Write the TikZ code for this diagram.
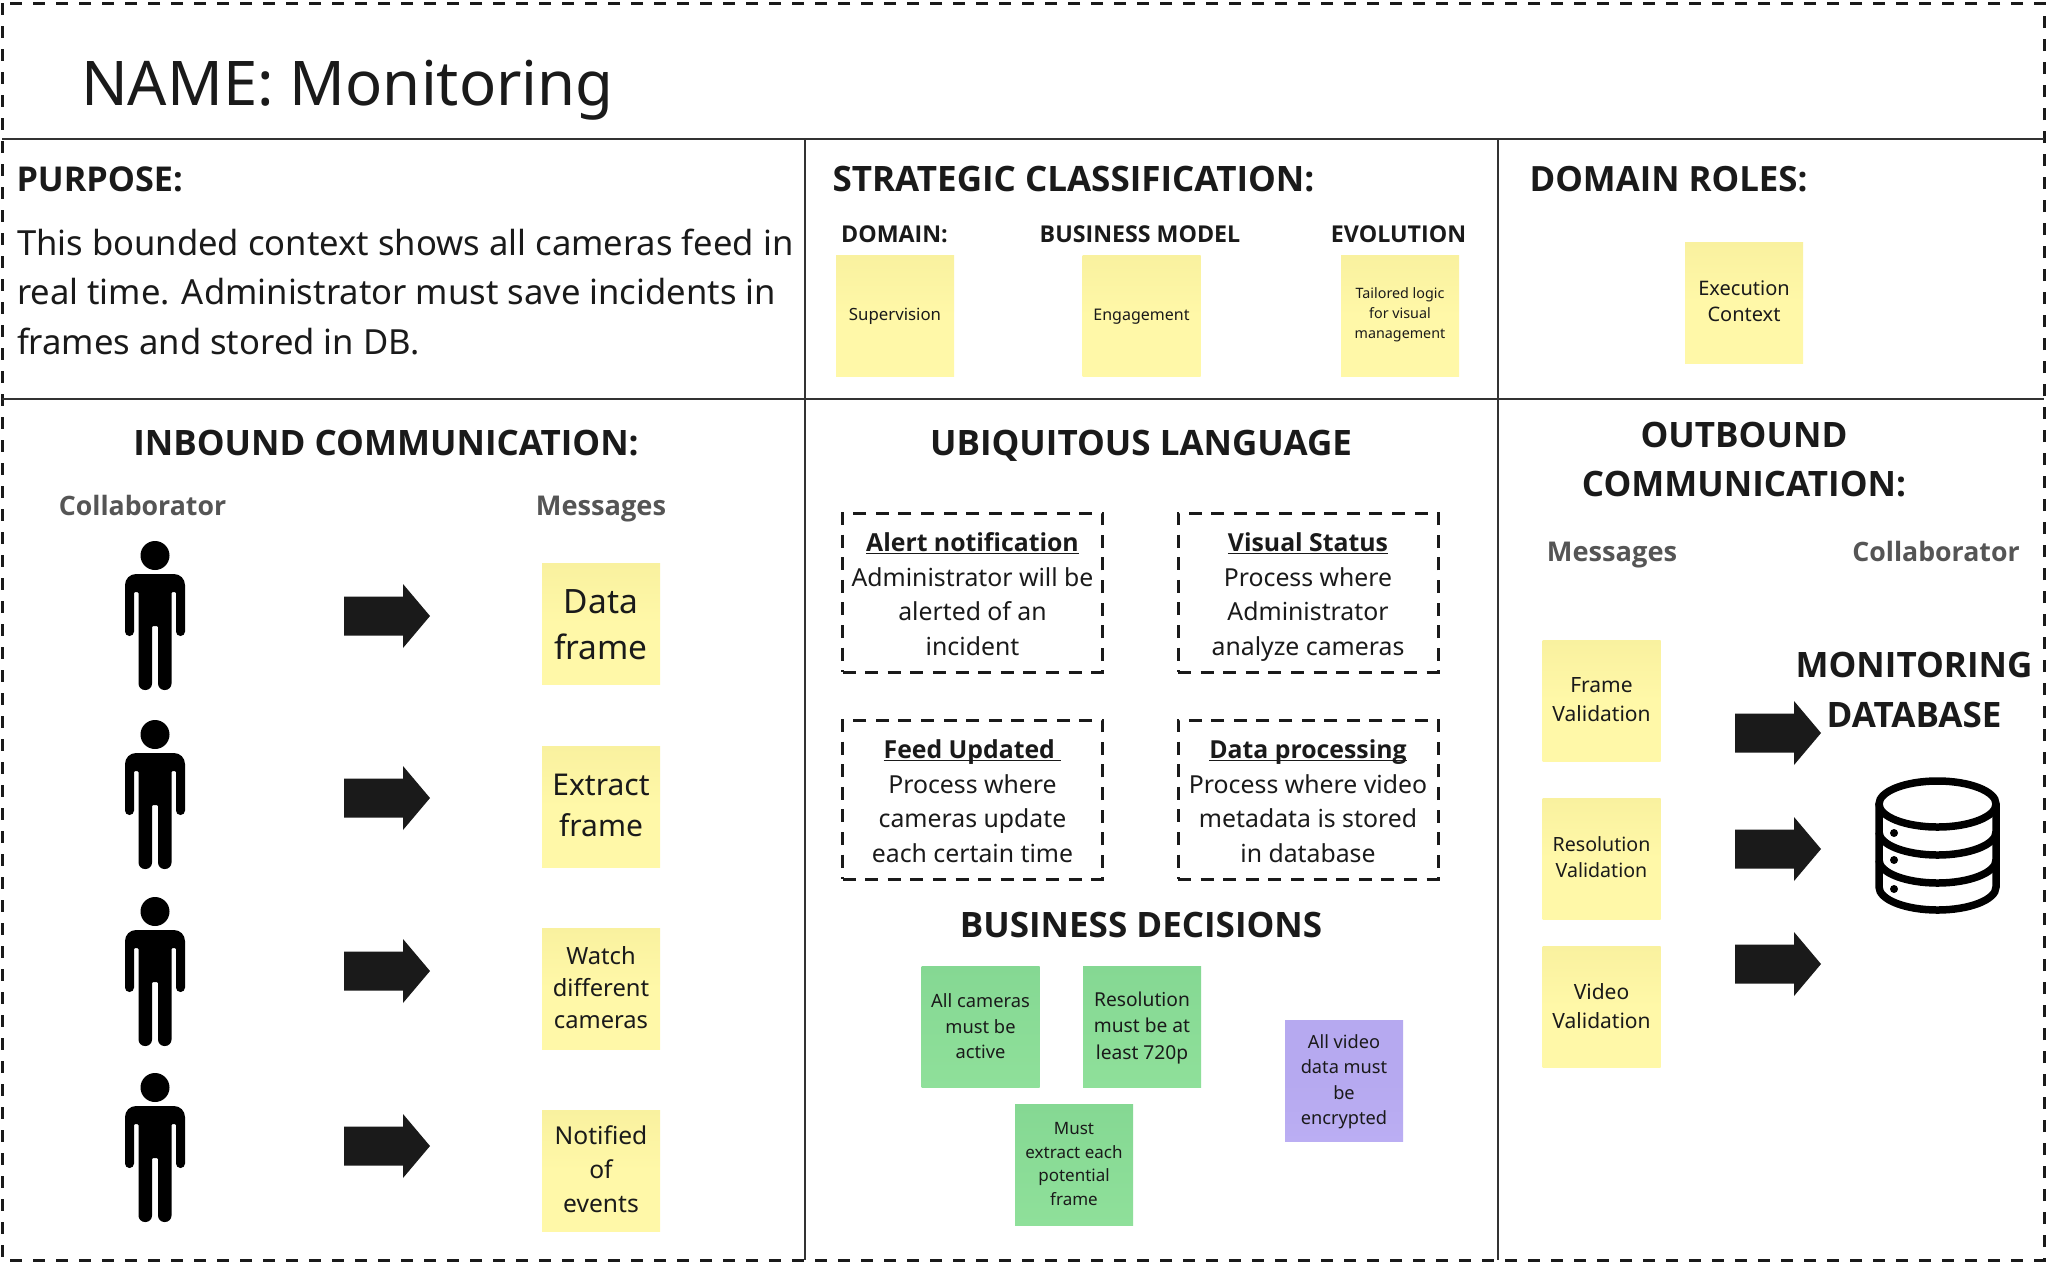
\documentclass[tikz,border=0pt]{standalone}
\usepackage{fontspec}
\setmainfont{Noto Sans}[BoldFont={Open Sans Bold}]
\usetikzlibrary{shadows}
\newcommand\fsz[2]{\fontsize{#1}{#2}\selectfont}
\newcommand\ulbox[1]{\underline{\smash{#1}}}
\definecolor{ink}{HTML}{1A1A1A}
\definecolor{greyhead}{HTML}{555555}
\definecolor{rulecol}{HTML}{333333}
\definecolor{yellowTop}{HTML}{F9F19F}
\definecolor{yellowBot}{HTML}{FFF8A8}
\definecolor{greenTop}{HTML}{85D893}
\definecolor{greenBot}{HTML}{8FE09A}
\definecolor{purpTop}{HTML}{B6A9F0}
\definecolor{purpBot}{HTML}{BBAEF3}
\tikzset{
  txt/.style={inner sep=0pt,outer sep=0pt,align=center,text=ink,execute at begin node=\strut,execute at end node=\strut},
  lefttxt/.style={txt,align=left,anchor=west},
  sticky/.style={inner sep=0pt,outer sep=0pt,minimum width=118pt,minimum height=121pt,drop shadow={shadow xshift=0pt,shadow yshift=-2.5pt,shadow scale=.97,opacity=.14,fill=black}},
  yellow note/.style={sticky,top color=yellowTop,bottom color=yellowBot,middle color=yellowBot},
  green note/.style={sticky,top color=greenTop,bottom color=greenBot,middle color=greenBot!50!greenTop},
  purple note/.style={sticky,top color=purpTop,bottom color=purpBot,middle color=purpTop},
  term/.style={draw=ink,line width=3pt,dash pattern=on 13pt off 9.6pt,minimum width=260pt,minimum height=159pt,inner sep=0pt},
  termtxt/.style={txt,font=\fsz{24.8}{34.6}},
  divider/.style={draw=rulecol,line width=2pt},
  boldhead/.style={txt,font=\bfseries\fsz{35}{42}},
  greyh/.style={txt,text=greyhead,font=\bfseries\fsz{27.2}{32}},
  greyc/.style={txt,text=greyhead,font=\bfseries\fsz{26.7}{32}},
  personpic/.pic={
    \fill[black] (0,14.5) circle[radius=14.5pt];
    \fill[black] (0,33) [rounded corners=11pt] -- (-30,33) [rounded corners=4.4pt] -- (-30,95) -- (-21,95) [rounded corners=1pt] -- (-21,51) -- (-16.5,51) [rounded corners=6.5pt] -- (-16.5,149) -- (-3,149) [rounded corners=1pt] -- (-3,85) -- (3,85) [rounded corners=6.5pt] -- (3,149) -- (16.5,149) [rounded corners=1pt] -- (16.5,51) -- (21,51) [rounded corners=4.4pt] -- (21,95) -- (30,95) [rounded corners=11pt] -- (30,33) -- cycle;
  },
  arrowpic/.pic={
    \fill[ink] (0,-19.5) -- (59,-19.5) -- (59,-32) -- (86,0) -- (59,32) -- (59,19.5) -- (0,19.5) -- cycle;
  }
}
% #1 note style, #2 name, #3 position, #4 font size, #5 leading, #6 downward text offset, #7 text
\newcommand\stickynode[7]{%
  \node[#1] (#2) at (#3) {};
  \node[txt,font=\fsz{#4}{#5}] (#2T) at ([yshift=-#6pt]#2.center) {#7};
}
\begin{document}
\begin{tikzpicture}[x=1pt,y=-1pt]
\useasboundingbox (0,0) rectangle (2050,1262);
\fill[white] (0,0) rectangle (2050,1262);
% frame and dividers
\draw[draw=ink,line width=3pt,dash pattern=on 12pt off 11pt] (2,3) rectangle (2044,1260);
\coordinate (hTopL) at (2,139); \coordinate (hTopR) at (2044,139);
\coordinate (hMidL) at (2,399); \coordinate (hMidR) at (2044,399);
\coordinate (vAT) at (805,139); \coordinate (vAB) at (805,1260);
\coordinate (vBT) at (1498,139); \coordinate (vBB) at (1498,1260);
\draw[divider] (hTopL) -- (hTopR);
\draw[divider] (hMidL) -- (hMidR);
\draw[divider] (vAT) -- (vAB);
\draw[divider] (vBT) -- (vBB);
% title
\node[lefttxt,font=\fsz{61.6}{76}] (title) at (81,90) {NAME: Monitoring};
% purpose
\node[lefttxt,font=\bfseries\fsz{34.2}{42}] (purposeH) at (16.5,183.5) {PURPOSE:};
\node[lefttxt,font=\fsz{34.6}{49.5}] (purposeB) at (17,299) {This bounded context shows all cameras feed in\\real time. Administrator must save incidents in\\frames and stored in DB.};
% strategic
\node[lefttxt,font=\bfseries\fsz{35}{42}] (stratH) at (832.5,183.5) {STRATEGIC CLASSIFICATION:};
\node[txt,font=\bfseries\fsz{23.2}{28}] (domH) at (894.5,237) {DOMAIN:};
\node[txt,font=\bfseries\fsz{23.2}{28}] (bmH) at (1140,237) {BUSINESS MODEL};
\node[txt,font=\bfseries\fsz{23.2}{28}] (evoH) at (1398.5,237) {EVOLUTION};
\stickynode{yellow note}{supervision}{895,316}{16.8}{24}{0}{Supervision}
\stickynode{yellow note}{engagement}{1141.5,316}{16}{24}{0}{Engagement}
\stickynode{yellow note}{tailored}{1400,316}{14.3}{19.6}{0}{Tailored logic\\for visual\\management}
% roles
\node[lefttxt,font=\bfseries\fsz{34.8}{42}] (rolesH) at (1529.5,183.5) {DOMAIN ROLES:};
\stickynode{yellow note}{exec}{1744,303}{20}{26}{2}{Execution\\Context}
% inbound
\node[boldhead] (inH) at (386,447.5) {INBOUND COMMUNICATION:};
\node[greyc] (collabL) at (142.5,509) {Collaborator};
\node[greyh] (msgL) at (601,509) {Messages};
\pic at (155,541) {personpic};
\pic at (155,720) {personpic};
\pic at (155,897) {personpic};
\pic at (155,1073) {personpic};
\pic at (344,616) {arrowpic};
\pic at (344,798) {arrowpic};
\pic at (344,971) {arrowpic};
\pic at (344,1146) {arrowpic};
\stickynode{yellow note}{dataframe}{601,624}{33.5}{46}{7}{Data\\frame}
\stickynode{yellow note}{extract}{601,807}{30}{41}{4}{Extract\\frame}
\stickynode{yellow note}{watch}{601,989}{23.7}{32}{3}{Watch\\different\\cameras}
\stickynode{yellow note}{notified}{601,1171}{24.6}{34}{3.5}{Notified\\of\\events}
% ubiquitous
\node[boldhead] (ubiH) at (1141,447.5) {UBIQUITOUS LANGUAGE};
\node[term] (alert) at (972.5,592.5) {};
\node[term] (visual) at (1308,592.5) {};
\node[term] (feed) at (972.5,799.5) {};
\node[term] (dproc) at (1308,799.5) {};
\node[termtxt] (alertT) at ([yshift=-16pt]alert.center) {\textbf{\ulbox{Alert notification}}\\Administrator will be\\alerted of an\\incident};
\node[termtxt] (visualT) at ([yshift=-16pt]visual.center) {\textbf{\ulbox{Visual Status}}\\Process where\\Administrator\\analyze cameras};
\node[termtxt] (feedT) at ([yshift=-16pt]feed.center) {\textbf{\ulbox{Feed Updated\ }}\\Process where\\cameras update\\each certain time};
\node[termtxt] (dprocT) at ([yshift=-16pt]dproc.center) {\textbf{\ulbox{Data processing}}\\Process where video\\metadata is stored\\in database};
\node[boldhead] (bizH) at (1141,929.5) {BUSINESS DECISIONS};
\stickynode{green note}{allcam}{980.5,1027}{18.3}{25.5}{3}{All cameras\\must be\\active}
\stickynode{green note}{res}{1142,1027}{19.2}{26.5}{2.5}{Resolution\\must be at\\least 720p}
\stickynode{green note}{must}{1074,1165}{17}{23.5}{2.5}{Must\\extract each\\potential\\frame}
\stickynode{purple note}{allvid}{1344,1081}{18.2}{25.5}{2.5}{All video\\data must\\be\\encrypted}
% outbound
\node[txt,font=\bfseries\fsz{35}{49.5}] (outH) at (1744,466.5) {OUTBOUND\\COMMUNICATION:};
\node[greyh] (msgR) at (1612,555) {Messages};
\node[greyc] (collabR) at (1936,555) {Collaborator};
\stickynode{yellow note}{fval}{1601.5,701}{21}{29}{3}{Frame\\Validation}
\stickynode{yellow note}{rval}{1601.5,859}{19.6}{26}{2}{Resolution\\Validation}
\stickynode{yellow note}{vval}{1601.5,1007}{21}{29}{3}{Video\\Validation}
\pic at (1735,733) {arrowpic};
\pic at (1735,849) {arrowpic};
\pic at (1735,964) {arrowpic};
\node[txt,font=\bfseries\fsz{35}{50}] (monH) at (1914,697) {MONITORING\\DATABASE};
% database icon
\begin{scope}[black,line width=7.5pt]
\draw (1937.5,804) ellipse [x radius=58.5pt,y radius=23pt];
\draw (1879,804) -- (1879,887) .. controls (1879,899.7) and (1905.5,910) .. (1937.5,910) .. controls (1969.5,910) and (1996,899.7) .. (1996,887) -- (1996,804);
\draw (1879,832) .. controls (1879,844.7) and (1905.5,855) .. (1937.5,855) .. controls (1969.5,855) and (1996,844.7) .. (1996,832);
\draw (1879,860) .. controls (1879,872.7) and (1905.5,883) .. (1937.5,883) .. controls (1969.5,883) and (1996,872.7) .. (1996,860);
\end{scope}
\fill[black] (1894,833) circle[radius=4pt] (1894,860) circle[radius=4pt] (1894,889) circle[radius=4pt];
\end{tikzpicture}
\end{document}
